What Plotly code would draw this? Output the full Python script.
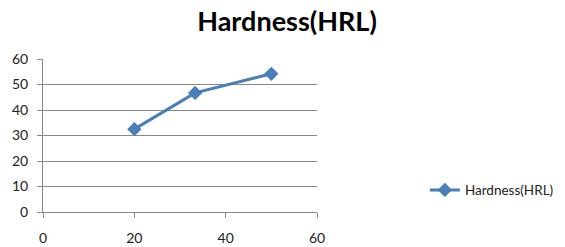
import plotly.graph_objects as go

x_vals = [20, 33.3, 50]
hardness = [32.5, 46.7, 54.2]
series_name = "Hardness(HRL)"
title_text = "Hardness(HRL)"
x_ticks = [0, 20, 40, 60]
y_ticks = [0, 10, 20, 30, 40, 50, 60]

fig = go.Figure()
fig.add_trace(go.Scatter(
    x=x_vals, y=hardness, mode="lines+markers", name=series_name,
    line=dict(color="#4A7EBB", width=3),
    marker=dict(symbol="diamond", size=11, color="#4A7EBB"),
))

fig.update_layout(
    width=565, height=247,
    margin=dict(l=43, r=248, t=59, b=35),
    paper_bgcolor="white", plot_bgcolor="white",
    title=dict(text="<b>" + title_text + "</b>", x=0.508, xanchor="center",
               xref="container", y=0.911, yref="container", yanchor="middle",
               font=dict(family="Lato", size=27, color="black")),
    font=dict(family="Lato", size=13, color="#222"),
    showlegend=True,
    legend=dict(x=0.752, xref="container", xanchor="left",
                y=0.23, yref="container", yanchor="middle",
                font=dict(family="Lato", size=13.5, color="#222"),
                bgcolor="rgba(0,0,0,0)"),
    xaxis=dict(range=[0, 60], tickvals=x_ticks, showgrid=False,
               zeroline=False, showline=True, linecolor="#888",
               ticks="outside", ticklen=5, tickcolor="#888",
               ticklabelstandoff=8, automargin=False,
               tickfont=dict(size=14)),
    yaxis=dict(range=[0, 60], tickvals=y_ticks, showgrid=True,
               gridcolor="#888", gridwidth=1, zeroline=False,
               showline=True, linecolor="#888", ticks="outside",
               ticklen=5, tickcolor="#888", ticklabelstandoff=6,
               automargin=False, tickfont=dict(size=14)),
)

fig.write_html("out.html", config={"displayModeBar": False},
               post_script="document.body.style.margin='0';")
